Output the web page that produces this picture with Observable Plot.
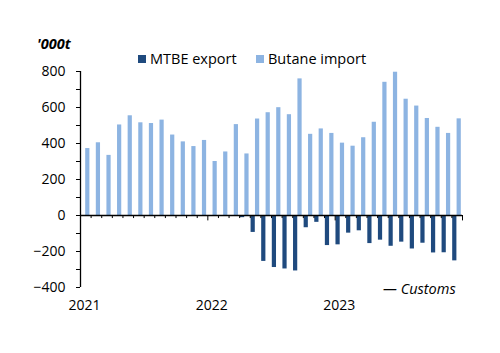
<!DOCTYPE html>
<html>
<head>
<meta charset="utf-8">
<script src="https://cdn.jsdelivr.net/npm/d3@7"></script>
<script src="https://cdn.jsdelivr.net/npm/@observablehq/plot@0.6"></script>
<style>
  body { margin: 0; background: #fff; }
  #wrap { position: relative; width: 500px; height: 353px; font-family: "Open Sans", sans-serif; color: #000; overflow: hidden; }
  #wrap svg { position: absolute; left: 0; top: 0; }
  .unit { position: absolute; left: 37px; top: 34px; font-weight: bold; font-style: italic; font-size: 14.5px; }
  .legend { position: absolute; top: 49px; font-size: 14.5px; display: flex; align-items: center; white-space: nowrap; }
  .sw { display: inline-block; width: 8px; height: 8px; margin-right: 4px; }
  .caption { position: absolute; left: 383px; top: 279px; font-size: 14.5px; font-style: italic; }
</style>
</head>
<body>
<div id="wrap"></div>
<script>
// Monthly values, Jan 2021 – Dec 2023 ('000t)
const yearLabels = ["2021", "2022", "2023"];
const seriesNames = ["MTBE export", "Butane import"];
const butaneImport = [372, 404, 334, 503, 554, 515, 511, 530, 447, 409, 383, 417,
                      300, 353, 505, 342, 536, 571, 599, 560, 759, 451, 481, 456,
                      402, 385, 432, 518, 740, 796, 646, 608, 539, 490, 456, 537];
const mtbeExport   = [0, 0, 0, 0, 0, 0, 0, 0, 0, 0, 0, 0,
                      0, 0, 0, -12, -94, -255, -289, -297, -308, -68, -38, -167,
                      -163, -98, -85, -156, -137, -171, -148, -186, -154, -208, -207, -252];
const yTicks = [-400, -200, 0, 200, 400, 600, 800];
const yMinorTicks = [-400, -300, -200, -100, 0, 100, 200, 300, 400, 500, 600, 700, 800];

const darkBlue = "#1F4A7E";
const lightBlue = "#8DB4E2";

const data = butaneImport.map((b, i) => ({ i, butane: b, mtbe: mtbeExport[i] }));
const nMonths = data.length;
const boundaries = d3.range(1, nMonths + 1);
const yearStarts = yearLabels.map((_, k) => k * 12);

const chart = Plot.plot({
  width: 500,
  height: 353,
  marginLeft: 80,
  marginRight: 38,
  marginTop: 71,
  marginBottom: 66,
  style: { fontFamily: "'Open Sans', sans-serif", fontSize: "14px", color: "#000", background: "transparent" },
  x: { type: "linear", domain: [0, nMonths], axis: null },
  y: { domain: [-400, 800], axis: null },
  marks: [
    Plot.rectY(data, { x1: "i", x2: d => d.i + 1, y: "mtbe", fill: darkBlue, insetLeft: 0.8, insetRight: 5.6 }),
    Plot.rectY(data, { x1: "i", x2: d => d.i + 1, y: "butane", fill: lightBlue, insetLeft: 5.2, insetRight: 1.2 }),
    Plot.ruleY([0], { x1: 0, x2: nMonths, stroke: "#000", strokeWidth: 1.3 }),
    Plot.ruleX(boundaries, { x: d => d, y1: 0, y2: d => d % 12 === 0 ? -30 : -17, stroke: "#000", strokeWidth: 1 }),
    Plot.ruleX([0], { y1: -400, y2: 800, stroke: "#000", strokeWidth: 1.3 }),
    Plot.axisY(yMinorTicks, { tickSize: 4, tickFormat: () => "", label: null, stroke: "#000" }),
    Plot.axisY(yTicks, { tickSize: 4, tickPadding: 11, label: null, fontSize: 14, fill: "#000", stroke: "#000" }),
    Plot.axisX(yearStarts, { tickSize: 0, tickPadding: 13, dx: 4, tickFormat: d => yearLabels[d / 12], label: null, fontSize: 14, fill: "#000" })
  ]
});

const wrap = document.getElementById("wrap");
wrap.appendChild(chart);

const unit = document.createElement("div");
unit.className = "unit";
unit.textContent = "'000t";
wrap.appendChild(unit);

const legendPos = [138, 256];
[darkBlue, lightBlue].forEach((c, k) => {
  const item = document.createElement("div");
  item.className = "legend";
  item.style.left = legendPos[k] + "px";
  const sw = document.createElement("span");
  sw.className = "sw";
  sw.style.background = c;
  item.appendChild(sw);
  item.appendChild(document.createTextNode(seriesNames[k]));
  wrap.appendChild(item);
});

const cap = document.createElement("div");
cap.className = "caption";
cap.textContent = "— Customs";
wrap.appendChild(cap);
</script>
</body>
</html>
